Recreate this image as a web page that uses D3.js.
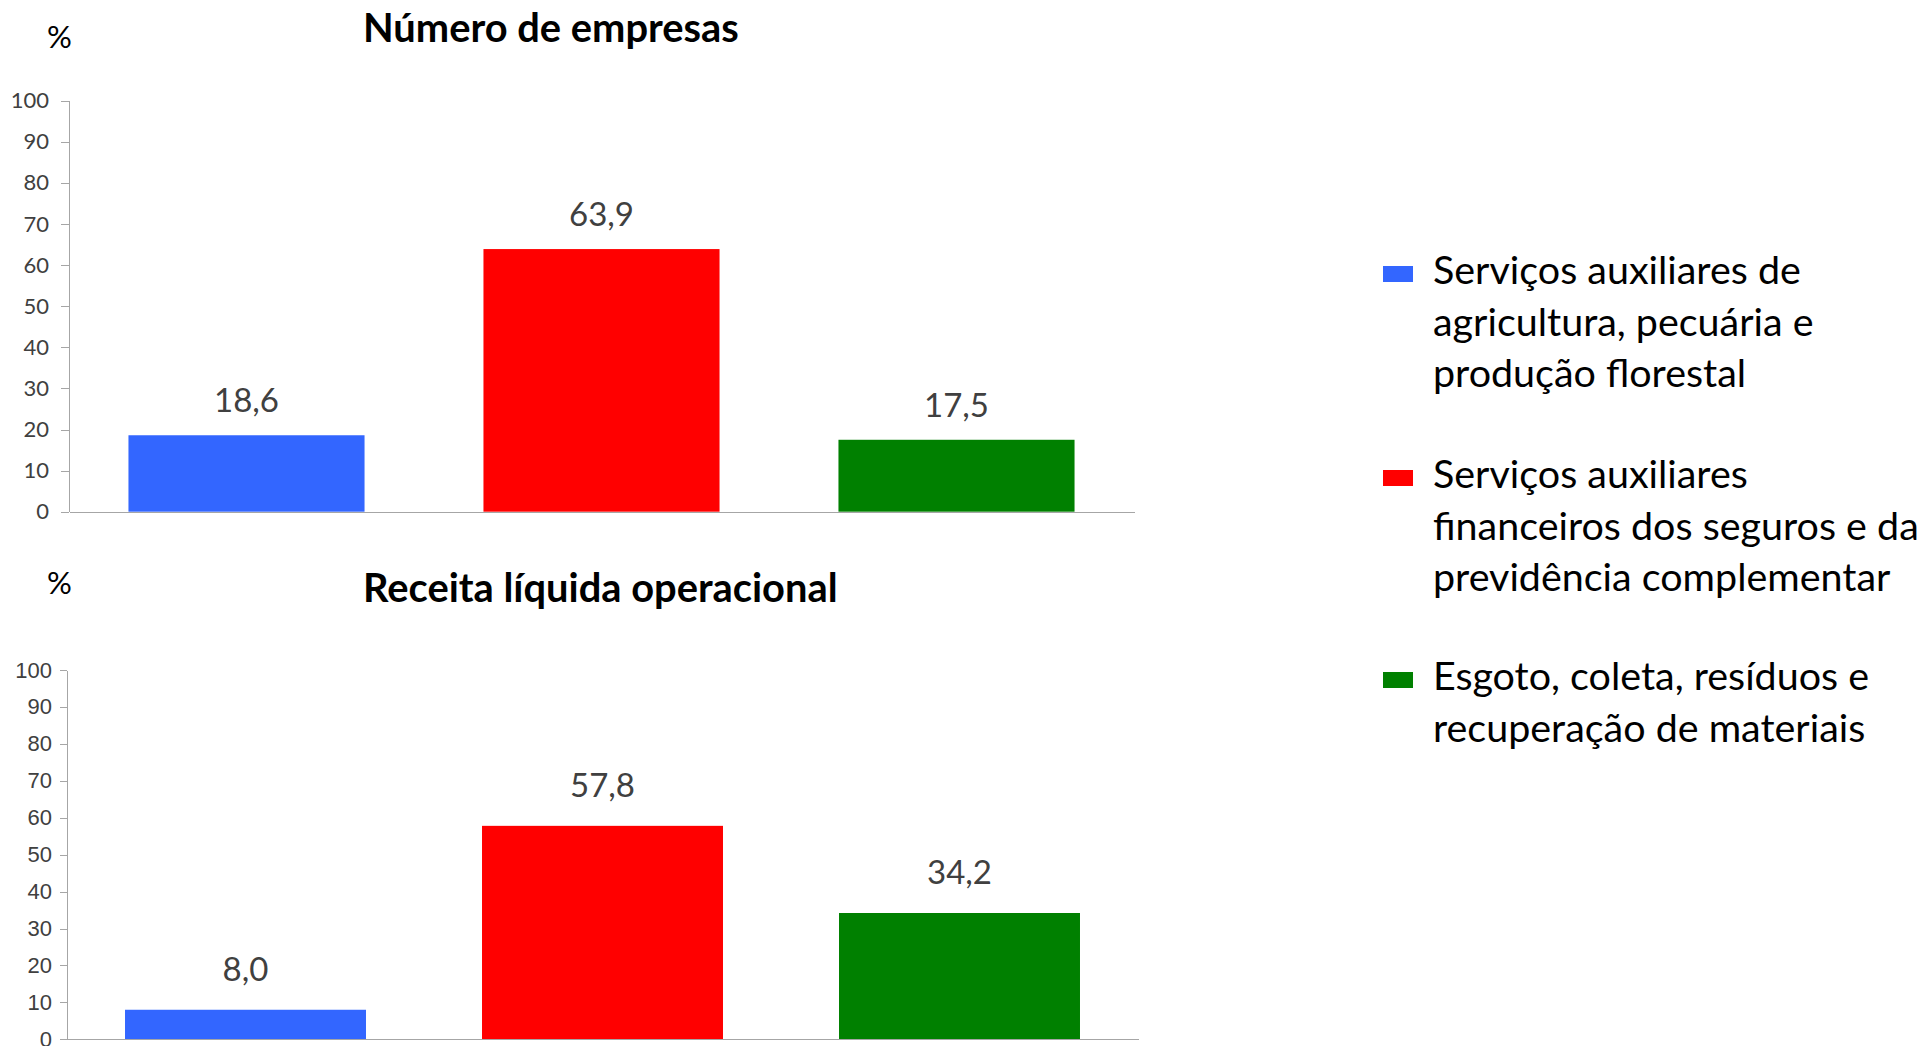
<!DOCTYPE html>
<html>
<head>
<meta charset="utf-8">
<script src="https://cdn.jsdelivr.net/npm/d3@7"></script>
<style>
	body { margin: 0; background: #fff; }
	svg { display: block; }
	.axis path, .axis line { stroke: #a6a6a6; shape-rendering: crispEdges; }
	.value-label { font-family: Lato, 'Open Sans', sans-serif; fill: #404040; text-anchor: middle; }
	.chart-title { font-family: Lato, 'Open Sans', sans-serif; font-weight: 700; fill: #000; }
	.unit-label { font-family: Lato, 'Open Sans', sans-serif; fill: #000; }
	.legend-text { font-family: Lato, 'Open Sans', sans-serif; fill: #000; }
</style>
</head>
<body>
<svg id="chart-svg" width="1924" height="1046"></svg>
<script>
const CATEGORIES = [ 'agro', 'seguros', 'esgoto' ];
const COLORS = [ '#3366ff', '#ff0000', '#008000' ];
const EMPRESAS = [ 18.6, 63.9, 17.5 ];
const RECEITA = [ 8.0, 57.8, 34.2 ];
const Y_TICKS = [ 0, 10, 20, 30, 40, 50, 60, 70, 80, 90, 100 ];
const TITLES = [ 'Número de empresas', 'Receita líquida operacional' ];
const LEGEND_LINES = [
	[ 'Serviços auxiliares de', 'agricultura, pecuária e', 'produção florestal' ],
	[ 'Serviços auxiliares', 'financeiros dos seguros e da', 'previdência complementar' ],
	[ 'Esgoto, coleta, resíduos e', 'recuperação de materiais' ]
];

const svg = d3.select('#chart-svg');
const fmt = (v) => d3.format('.1f')(v).replace('.', ',');

// panel layout
const PANELS = [
	{
		data: EMPRESAS,
		title: TITLES[0],
		left: 69,
		right: 1134,
		top: 100.7,
		bottom: 511.7,
		padding: 0.335,
		tickSize: 8,
		tickPadding: 12,
		tickFont: "22px Lato, 'Open Sans', sans-serif",
		titleY: 42,
		unitY: 48,
		labelGap: 23
	},
	{
		data: RECEITA,
		title: TITLES[1],
		left: 67,
		right: 1138,
		top: 670,
		bottom: 1039.3,
		padding: 0.325,
		tickSize: 7,
		tickPadding: 8,
		tickFont: "22px 'Liberation Sans', Arial, sans-serif",
		titleY: 602,
		unitY: 594,
		labelGap: 29
	}
];

let titleNodes = [];

PANELS.forEach((p) => {
	const xScale = d3
		.scaleBand()
		.domain(CATEGORIES)
		.range([ p.left, p.right ])
		.paddingInner(p.padding)
		.paddingOuter(p.padding / 2);
	const yScale = d3.scaleLinear().domain([ 0, 100 ]).range([ p.bottom, p.top ]);

	const g = svg.append('g');

	g
		.selectAll('rect.bar')
		.data(p.data)
		.enter()
		.append('rect')
		.attr('class', 'bar')
		.attr('x', (d, i) => xScale(CATEGORIES[i]))
		.attr('y', (d) => yScale(d))
		.attr('width', xScale.bandwidth())
		.attr('height', (d) => yScale(0) - yScale(d))
		.attr('fill', (d, i) => COLORS[i]);

	const yAxis = d3
		.axisLeft(yScale)
		.tickValues(Y_TICKS)
		.tickSize(p.tickSize)
		.tickSizeOuter(0)
		.tickPadding(p.tickPadding)
		.tickFormat(d3.format('d'));
	const yG = g.append('g').attr('class', 'axis').attr('transform', 'translate(' + p.left + ',0)').call(yAxis);
	yG.selectAll('text').style('font', p.tickFont).attr('fill', '#404040');

	const xAxis = d3.axisBottom(xScale).tickSize(0).tickSizeOuter(0).tickFormat('');
	g.append('g').attr('class', 'axis').attr('transform', 'translate(0,' + p.bottom + ')').call(xAxis);

	g
		.selectAll('text.value-label')
		.data(p.data)
		.enter()
		.append('text')
		.attr('class', 'value-label')
		.attr('x', (d, i) => xScale(CATEGORIES[i]) + xScale.bandwidth() / 2)
		.attr('y', (d) => yScale(d) - p.labelGap)
		.style('font-size', '33px')
		.text(fmt);

	g.append('text').attr('class', 'unit-label').attr('x', 47).attr('y', p.unitY).style('font-size', '31px').text('%');

	const t = g
		.append('text')
		.attr('class', 'chart-title')
		.attr('x', 363)
		.attr('y', p.titleY)
		.style('font-size', '40px')
		.text(p.title);
	titleNodes.push(t);
});

// scale title font so "Número de empresas" spans ~376px like the reference
const tw = titleNodes[0].node().getComputedTextLength();
const titleSize = 40 * 376 / tw;
titleNodes.forEach((t) => t.style('font-size', titleSize + 'px'));

// legend
const legendG = svg.append('g').attr('id', 'legend');
const LEGEND_X = 1383;
const LEGEND_TEXT_X = 1433;
const LINE_H = 51.5;
const GROUP_START = [ 284, 488, 690 ];

const probe = legendG.append('text').attr('class', 'legend-text').style('font-size', '40px').text(LEGEND_LINES[1][1]);
const legendSize = 40 * 486 / probe.node().getComputedTextLength();
probe.remove();

LEGEND_LINES.forEach((lines, i) => {
	const base = GROUP_START[i];
	legendG
		.append('rect')
		.attr('x', LEGEND_X)
		.attr('y', base - 18)
		.attr('width', 30)
		.attr('height', 16)
		.attr('fill', COLORS[i]);
	const txt = legendG
		.append('text')
		.attr('class', 'legend-text')
		.attr('x', LEGEND_TEXT_X)
		.attr('y', base)
		.style('font-size', legendSize + 'px');
	txt
		.selectAll('tspan')
		.data(lines)
		.enter()
		.append('tspan')
		.attr('x', LEGEND_TEXT_X)
		.attr('dy', (d, j) => (j === 0 ? 0 : LINE_H))
		.text((d) => d);
});
</script>
</body>
</html>
